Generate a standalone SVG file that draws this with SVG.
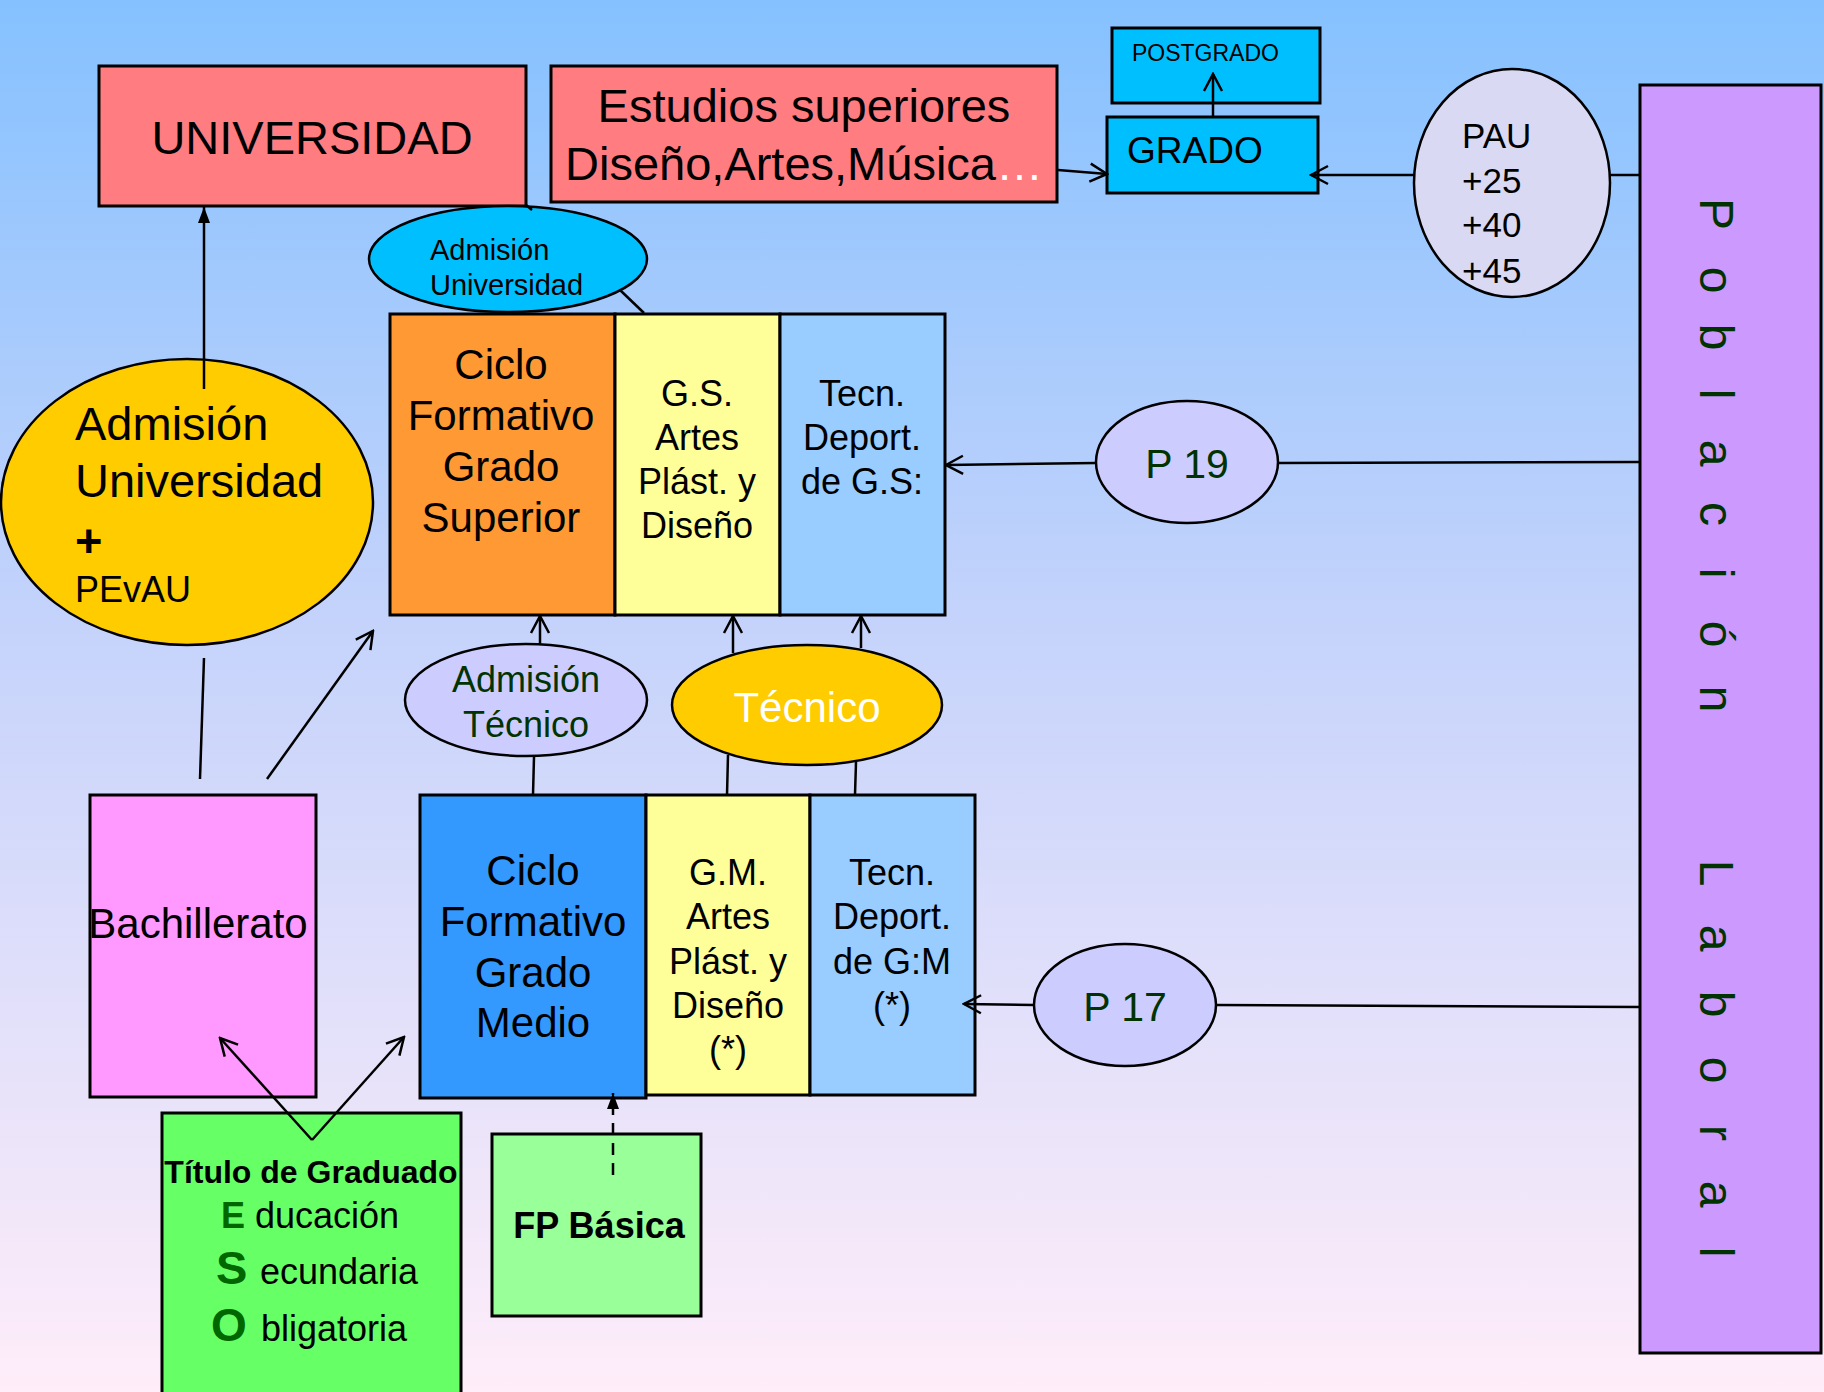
<svg xmlns="http://www.w3.org/2000/svg" width="1824" height="1392" viewBox="0 0 1824 1392">
<defs>
<linearGradient id="bg" x1="0" y1="0" x2="0" y2="1">
<stop offset="0" stop-color="#85C1FF"/>
<stop offset="0.45" stop-color="#C5D3FB"/>
<stop offset="1" stop-color="#FFEDF9"/>
</linearGradient>
<marker id="open" viewBox="0 0 22 22" refX="20" refY="11" markerWidth="22" markerHeight="22" markerUnits="userSpaceOnUse" orient="auto">
<path d="M3,2 L20,11 L3,20" fill="none" stroke="#000" stroke-width="2.5"/>
</marker>
<marker id="tri" viewBox="0 0 16 12" refX="16" refY="6" markerWidth="16" markerHeight="12" markerUnits="userSpaceOnUse" orient="auto">
<path d="M0,0 L16,6 L0,12 z" fill="#000"/>
</marker>
<style>
text{font-family:"Liberation Sans",Arial,sans-serif;fill:#000}
.box{stroke:#000;stroke-width:3}
.ell{stroke:#000;stroke-width:2.5}
.ln{stroke:#000;stroke-width:2.5;fill:none}
.arr{marker-end:url(#open)}
.c{text-anchor:middle}
.g{fill:#003300}
.eso{fill:#006600;font-weight:bold}
</style>
</defs>
<rect x="0" y="0" width="1824" height="1392" fill="url(#bg)"/>

<g id="universidad">
<rect class="box" x="99" y="66" width="427" height="140" fill="#FF7C80"/>
<text class="c" x="312" y="154" font-size="47">UNIVERSIDAD</text>
</g>
<g id="estudios-superiores">
<rect class="box" x="551" y="66" width="506" height="136" fill="#FF7C80"/>
<text class="c" x="804" y="122" font-size="47">Estudios superiores</text>
<text class="c" x="804" y="180" font-size="47">Diseño,Artes,Música<tspan fill="#FFFFFF">…</tspan></text>
</g>
<g id="postgrado">
<rect class="box" x="1112" y="28" width="208" height="75" fill="#00BFFF"/>
<text x="1132" y="61" font-size="23">POSTGRADO</text>
</g>
<g id="grado">
<rect class="box" x="1107" y="117" width="211" height="76" fill="#00BFFF"/>
<text x="1127" y="163" font-size="37">GRADO</text>
</g>
<g id="pau">
<ellipse class="ell" cx="1512" cy="183" rx="98" ry="114" fill="#D9D9F3"/>
<text x="1462" y="148" font-size="35">PAU</text>
<text x="1462" y="193" font-size="35">+25</text>
<text x="1462" y="237" font-size="35">+40</text>
<text x="1462" y="283" font-size="35">+45</text>
</g>
<g id="poblacion-laboral">
<rect class="box" x="1640" y="85" width="181" height="1268" fill="#CC99FF"/>
<text class="g c" font-size="48" transform="rotate(90)" y="-1700"><tspan x="214">P</tspan><tspan x="280">o</tspan><tspan x="337">b</tspan><tspan x="394">l</tspan><tspan x="453">a</tspan><tspan x="514">c</tspan><tspan x="573">i</tspan><tspan x="634">ó</tspan><tspan x="699">n</tspan><tspan x="873">L</tspan><tspan x="938">a</tspan><tspan x="1004">b</tspan><tspan x="1070">o</tspan><tspan x="1133">r</tspan><tspan x="1194">a</tspan><tspan x="1252">l</tspan></text>
</g>
<g id="admision-universidad-small">
<ellipse class="ell" cx="508" cy="259" rx="139" ry="53" fill="#00BFFF"/>
<text x="430" y="260" font-size="29">Admisión</text>
<text x="430" y="295" font-size="29">Universidad</text>
</g>
<g id="cfgs">
<rect class="box" x="390" y="314" width="225" height="301" fill="#FF9933"/>
<rect class="box" x="615" y="314" width="165" height="301" fill="#FFFF99"/>
<rect class="box" x="780" y="314" width="165" height="301" fill="#99CCFF"/>
<text class="c" x="501" y="379" font-size="42">Ciclo</text>
<text class="c" x="501" y="430" font-size="42">Formativo</text>
<text class="c" x="501" y="481" font-size="42">Grado</text>
<text class="c" x="501" y="532" font-size="42">Superior</text>
<text class="c" x="697" y="406" font-size="36">G.S.</text>
<text class="c" x="697" y="450" font-size="36">Artes</text>
<text class="c" x="697" y="494" font-size="36">Plást. y</text>
<text class="c" x="697" y="538" font-size="36">Diseño</text>
<text class="c" x="862" y="406" font-size="36">Tecn.</text>
<text class="c" x="862" y="450" font-size="36">Deport.</text>
<text class="c" x="862" y="494" font-size="36">de G.S:</text>
</g>
<g id="admision-universidad-pevau">
<ellipse class="ell" cx="187" cy="502" rx="186" ry="143" fill="#FFCC00"/>
<text x="75" y="440" font-size="47">Admisión</text>
<text x="75" y="497" font-size="47">Universidad</text>
<text x="75" y="557" font-size="47" font-weight="bold">+</text>
<text x="75" y="602" font-size="36">PEvAU</text>
</g>
<g id="p19">
<ellipse class="ell" cx="1187" cy="462" rx="91" ry="61" fill="#CCCCFF"/>
<text class="c g" x="1187" y="478" font-size="41">P 19</text>
</g>
<g id="p17">
<ellipse class="ell" cx="1125" cy="1005" rx="91" ry="61" fill="#CCCCFF"/>
<text class="c g" x="1125" y="1021" font-size="41">P 17</text>
</g>
<g id="admision-tecnico">
<ellipse class="ell" cx="526" cy="700" rx="121" ry="56" fill="#CCCCFF"/>
<text class="c g" x="526" y="692" font-size="36">Admisión</text>
<text class="c g" x="526" y="737" font-size="36">Técnico</text>
</g>
<g id="tecnico">
<ellipse class="ell" cx="807" cy="705" rx="135" ry="60" fill="#FFCC00"/>
<text class="c" x="807" y="722" font-size="42" style="fill:#FFFFFF">Técnico</text>
</g>
<g id="cfgm">
<rect class="box" x="420" y="795" width="226" height="303" fill="#3399FF"/>
<rect class="box" x="646" y="795" width="164" height="300" fill="#FFFF99"/>
<rect class="box" x="810" y="795" width="165" height="300" fill="#99CCFF"/>
<text class="c" x="533" y="885" font-size="42">Ciclo</text>
<text class="c" x="533" y="936" font-size="42">Formativo</text>
<text class="c" x="533" y="987" font-size="42">Grado</text>
<text class="c" x="533" y="1037" font-size="42">Medio</text>
<text class="c" x="728" y="885" font-size="36">G.M.</text>
<text class="c" x="728" y="929" font-size="36">Artes</text>
<text class="c" x="728" y="974" font-size="36">Plást. y</text>
<text class="c" x="728" y="1018" font-size="36">Diseño</text>
<text class="c" x="728" y="1062" font-size="36">(*)</text>
<text class="c" x="892" y="885" font-size="36">Tecn.</text>
<text class="c" x="892" y="929" font-size="36">Deport.</text>
<text class="c" x="892" y="974" font-size="36">de G:M</text>
<text class="c" x="892" y="1018" font-size="36">(*)</text>
</g>
<g id="bachillerato">
<rect class="box" x="90" y="795" width="226" height="302" fill="#FF99FF"/>
<text class="c" x="198" y="938" font-size="42">Bachillerato</text>
</g>
<g id="eso">
<rect class="box" x="162" y="1113" width="299" height="282" fill="#66FF66"/>
<text class="c" x="311" y="1183" font-size="32" font-weight="bold">Título de Graduado</text>
<text x="221" y="1228" font-size="36"><tspan class="eso">E</tspan><tspan x="255">ducación</tspan></text>
<text x="216" y="1284" font-size="36"><tspan class="eso" font-size="47">S</tspan><tspan x="260">ecundaria</tspan></text>
<text x="211" y="1341" font-size="36"><tspan class="eso" font-size="46">O</tspan><tspan x="261">bligatoria</tspan></text>
</g>
<g id="fp-basica">
<rect class="box" x="492" y="1134" width="209" height="182" fill="#99FF99"/>
<text class="c" x="599" y="1238" font-size="36" font-weight="bold">FP Básica</text>
</g>

<g id="connectors">
<line class="ln" x1="204" y1="389" x2="204" y2="207" marker-end="url(#tri)"/>
<line class="ln" x1="644" y1="313" x2="620" y2="290"/>
<line class="ln" x1="526" y1="205" x2="532" y2="210"/>
<line class="ln arr" x1="1058" y1="170" x2="1107" y2="174"/>
<line class="ln arr" x1="1213" y1="117" x2="1213" y2="74"/>
<line class="ln arr" x1="1414" y1="175" x2="1311" y2="175"/>
<line class="ln" x1="1610" y1="175" x2="1640" y2="175"/>
<line class="ln arr" x1="1096" y1="463" x2="946" y2="465"/>
<line class="ln" x1="1278" y1="463" x2="1640" y2="462"/>
<line class="ln arr" x1="1034" y1="1005" x2="964" y2="1004"/>
<line class="ln" x1="1216" y1="1005" x2="1640" y2="1007"/>
<line class="ln arr" x1="540" y1="644" x2="540" y2="616"/>
<line class="ln arr" x1="733" y1="653" x2="733" y2="616"/>
<line class="ln arr" x1="861" y1="648" x2="861" y2="616"/>
<line class="ln" x1="534" y1="757" x2="533" y2="795"/>
<line class="ln" x1="728" y1="755" x2="727" y2="795"/>
<line class="ln" x1="856" y1="762" x2="855" y2="795"/>
<line class="ln" x1="200" y1="779" x2="204" y2="658"/>
<line class="ln arr" x1="267" y1="779" x2="373" y2="631"/>
<line class="ln arr" x1="312" y1="1140" x2="220" y2="1038"/>
<line class="ln arr" x1="312" y1="1140" x2="404" y2="1037"/>
<line class="ln" x1="613" y1="1175" x2="613" y2="1093" stroke-dasharray="12,8" marker-end="url(#tri)"/>
</g>
</svg>
